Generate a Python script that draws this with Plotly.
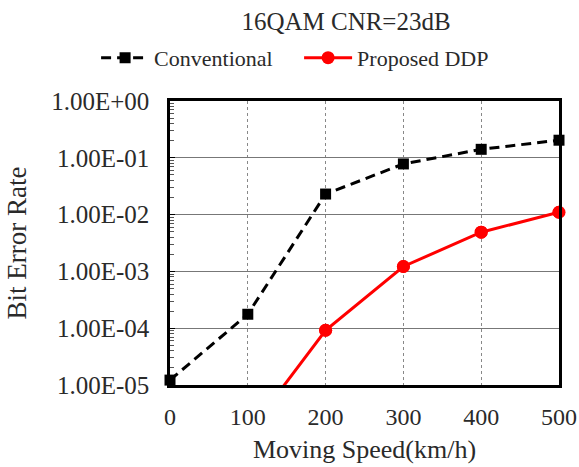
import plotly.graph_objects as go

speed = [0, 100, 200, 300, 400, 500]
conventional = [1.22e-5, 1.76e-4, 2.3e-2, 7.8e-2, 1.41e-1, 2.04e-1]
speed_ddp = [100, 200, 300, 400, 500]
proposed_ddp = [1.4e-6, 9.2e-5, 1.22e-3, 4.9e-3, 1.1e-2]
y_tickvals = [1e-5, 1e-4, 1e-3, 1e-2, 1e-1, 1e0]
y_ticktext = ["1.00E-05", "1.00E-04", "1.00E-03", "1.00E-02", "1.00E-01", "1.00E+00"]
x_tickvals = [0, 100, 200, 300, 400, 500]

font_family = "Liberation Serif"
txt = "#2a2a2a"

fig = go.Figure()
fig.add_trace(go.Scatter(
    x=speed, y=conventional, name="Conventional", mode="lines+markers",
    line=dict(color="black", width=3, dash="10px,6px"),
    marker=dict(symbol="square", size=11, color="black"),
    cliponaxis=False,
))
fig.add_trace(go.Scatter(
    x=speed_ddp, y=proposed_ddp, name="Proposed DDP", mode="lines+markers",
    line=dict(color="#ff0000", width=3),
    marker=dict(symbol="circle", size=13, color="#ff0000"),
    cliponaxis=True,
))
# unclipped markers overlay so edge markers are fully drawn
fig.add_trace(go.Scatter(
    x=speed_ddp, y=proposed_ddp, name="Proposed DDP", mode="markers",
    marker=dict(symbol="circle", size=13, color="#ff0000",
                opacity=[0 if v < 1e-5 else 1 for v in proposed_ddp]),
    cliponaxis=False, showlegend=False, hoverinfo="skip",
))

fig.update_layout(
    width=579, height=467,
    margin=dict(l=170, r=20, t=101, b=82, autoexpand=False),
    paper_bgcolor="white", plot_bgcolor="white",
    font=dict(family=font_family, size=22, color=txt),
    title=dict(text="16QAM CNR=23dB", x=0.5976, xanchor="center", xref="container",
               y=1 - 21 / 467, yanchor="middle", yref="container",
               font=dict(family=font_family, size=25, color=txt)),
    legend=dict(orientation="h", x=-0.19, xanchor="left", y=1.152, yanchor="middle",
                font=dict(family=font_family, size=22, color=txt),
                itemwidth=48, entrywidth=140, entrywidthmode="pixels",
                traceorder="normal", bgcolor="rgba(0,0,0,0)"),
    showlegend=True,
)
fig.update_xaxes(
    range=[0, 500], tickvals=x_tickvals, ticks="", showline=True, linecolor="black",
    linewidth=2.5, mirror=True, showgrid=True, gridcolor="#888888", griddash="dot",
    gridwidth=1, zeroline=False, automargin=False, ticklabelstandoff=8,
    title=dict(text="Moving Speed(km/h)", font=dict(family=font_family, size=26, color=txt), standoff=12),
    tickfont=dict(family=font_family, size=24, color=txt),
)
fig.update_yaxes(
    type="log", range=[-5, 0], tickvals=y_tickvals, ticktext=y_ticktext,
    ticks="inside", ticklen=5, tickcolor="black",
    minor=dict(ticks="inside", ticklen=4, tickcolor="#555555", dtick="D1", showgrid=False),
    showline=True, linecolor="black", linewidth=2.5, mirror=True,
    showgrid=True, gridcolor="#777777", gridwidth=1, zeroline=False, automargin=False,
    ticklabelstandoff=13,
    title=dict(text="Bit Error Rate", font=dict(family=font_family, size=27, color=txt), standoff=17),
    tickfont=dict(family=font_family, size=25, color=txt),
)

fig.write_html(
    "out.html",
    config={"displayModeBar": False},
    post_script="document.body.style.margin='0px';document.body.style.overflow='hidden';",
)
